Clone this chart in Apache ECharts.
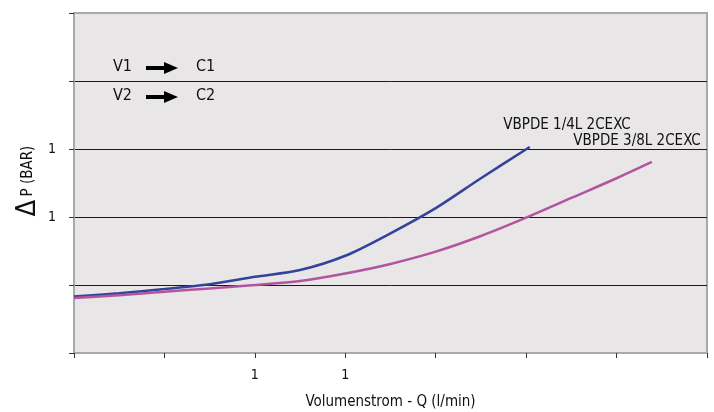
<!DOCTYPE html>
<html><head><meta charset="utf-8">
<script src="https://cdn.jsdelivr.net/npm/echarts@6/dist/echarts.min.js"></script>
<style>html,body{margin:0;padding:0;background:#fff}#c{width:714px;height:412px}</style>
</head><body><div id="c"></div>
<script>
// Data (x in flow units, y in pressure units; axis tick labels as shown)
const xTickLabels = ['', '', '1', '1', '', '', '', ''];
const yTickLabels = ['', '', '1', '1', '', ''];
const seriesNames = ['VBPDE 1/4L 2CEXC', 'VBPDE 3/8L 2CEXC'];
const blueX = [0, 0.5, 1, 1.5, 2, 2.5, 3, 3.5, 4, 4.5, 5.04];
const blueY = [0.83, 0.88, 0.94, 1.01, 1.12, 1.22, 1.43, 1.76, 2.13, 2.57, 3.03];
const pinkX = [0, 0.5, 1, 1.5, 2, 2.5, 3, 3.5, 4, 4.5, 5, 5.5, 6, 6.39];
const pinkY = [0.81, 0.85, 0.9, 0.95, 1.0, 1.06, 1.17, 1.31, 1.49, 1.72, 1.99, 2.28, 2.57, 2.81];

const FONT = '"Liberation Sans Narrow","DejaVu Sans Condensed",sans-serif';
const chart = echarts.init(document.getElementById('c'), null, {renderer: 'canvas'});
const pairs = (xs, ys) => xs.map((x, i) => [x, ys[i]]);

function arrow(x, y) {
  return [
    {type: 'line', shape: {x1: x, y1: y, x2: x + 20, y2: y}, style: {stroke: '#000', lineWidth: 4}},
    {type: 'polygon', shape: {points: [[x + 18, y - 6], [x + 32, y], [x + 18, y + 6]]}, style: {fill: '#000'}}
  ];
}

chart.setOption({
  animation: false,
  backgroundColor: '#fff',
  grid: {left: 74, right: 7, top: 13, bottom: 59, outerBoundsMode: 'none', containLabel: false, show: true, backgroundColor: '#e8e6e7', borderColor: '#a9a9a9', borderWidth: 2},
  xAxis: {
    type: 'value', min: 0, max: 7, interval: 1,
    axisLine: {show: true, lineStyle: {color: '#a9a9a9', width: 2}},
    axisTick: {show: true, length: 5, lineStyle: {color: '#333'}},
    splitLine: {show: false},
    axisLabel: {margin: 15, fontFamily: FONT, fontSize: 14, color: '#111', formatter: (v) => xTickLabels[Math.round(v)] || ''},
    name: 'Volumenstrom - Q (l/min)', nameLocation: 'middle', nameGap: 42,
    nameTextStyle: {fontFamily: FONT, fontSize: 15, color: '#111'}
  },
  yAxis: {
    type: 'value', min: 0, max: 5, interval: 1,
    axisLine: {show: true, lineStyle: {color: '#a9a9a9', width: 2}},
    axisTick: {show: true, length: 5, lineStyle: {color: '#333'}},
    splitLine: {show: true, showMinLine: false, showMaxLine: false, lineStyle: {color: '#1a1a1a', width: 1}},
    axisLabel: {margin: 18, fontFamily: FONT, fontSize: 14, color: '#111', formatter: (v) => yTickLabels[Math.round(v)] || ''}
  },
  series: [
    {name: seriesNames[0], type: 'line', smooth: 0.3, symbol: 'none', data: pairs(blueX, blueY), lineStyle: {color: '#34439a', width: 2.5}},
    {name: seriesNames[1], type: 'line', smooth: 0.3, symbol: 'none', data: pairs(pinkX, pinkY), lineStyle: {color: '#b2559f', width: 2.5}}
  ],
  graphic: [
    {type: 'text', x: 28, y: 181, rotation: Math.PI / 2, style: {
      text: '{d|Δ} {p|P (BAR)}', align: 'center', verticalAlign: 'middle',
      rich: {d: {fontFamily: FONT, fontSize: 27, fill: '#111'}, p: {fontFamily: FONT, fontSize: 15, fill: '#111'}}
    }},
    {type: 'text', x: 113, y: 67, style: {text: 'V1', font: '16px ' + FONT, fill: '#111', verticalAlign: 'middle'}},
    {type: 'text', x: 196, y: 67, style: {text: 'C1', font: '16px ' + FONT, fill: '#111', verticalAlign: 'middle'}},
    {type: 'text', x: 113, y: 96, style: {text: 'V2', font: '16px ' + FONT, fill: '#111', verticalAlign: 'middle'}},
    {type: 'text', x: 196, y: 96, style: {text: 'C2', font: '16px ' + FONT, fill: '#111', verticalAlign: 'middle'}},
    ...arrow(146, 68), ...arrow(146, 97),
    {type: 'text', x: 567, y: 125, style: {text: seriesNames[0], font: '15px ' + FONT, fill: '#111', align: 'center', verticalAlign: 'middle'}},
    {type: 'text', x: 637, y: 141, style: {text: seriesNames[1], font: '15px ' + FONT, fill: '#111', align: 'center', verticalAlign: 'middle'}}
  ]
});
</script></body></html>
